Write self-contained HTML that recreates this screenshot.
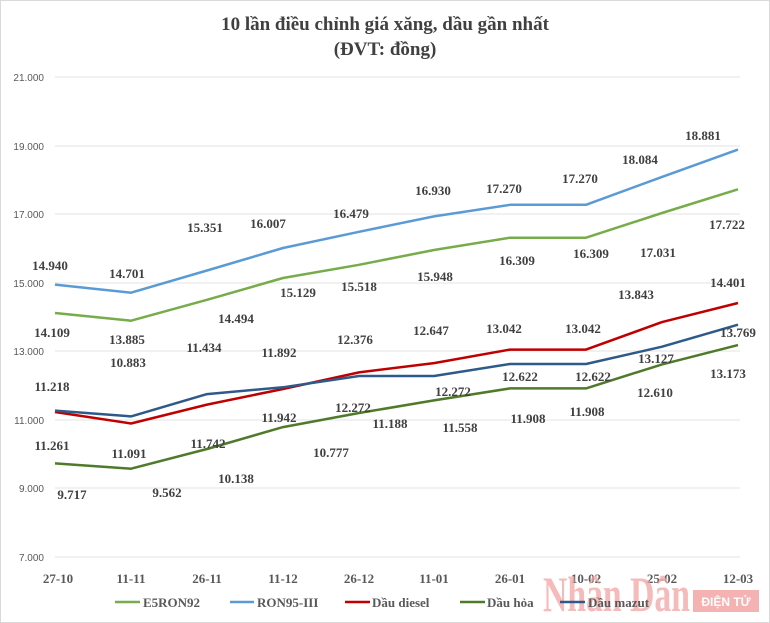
<!DOCTYPE html><html><head><meta charset="utf-8"><style>body{margin:0;background:#fff}svg{display:block}</style></head><body>
<svg width="770" height="623" xmlns="http://www.w3.org/2000/svg" font-family="Liberation Serif, serif">
<rect x="0.5" y="0.5" width="769" height="622" fill="#fff" stroke="#d9d9d9"/>
<text x="385" y="30" text-anchor="middle" font-size="19" font-weight="bold" fill="#404040">10 lần điều chỉnh giá xăng, dầu gần nhất</text>
<text x="385" y="55" text-anchor="middle" font-size="19" font-weight="bold" fill="#404040">(ĐVT: đồng)</text>
<g stroke="#e3e3e3" stroke-width="1">
<line x1="55" x2="740" y1="77" y2="77"/><line x1="55" x2="740" y1="146" y2="146"/><line x1="55" x2="740" y1="214" y2="214"/><line x1="55" x2="740" y1="283" y2="283"/><line x1="55" x2="740" y1="351" y2="351"/><line x1="55" x2="740" y1="420" y2="420"/><line x1="55" x2="740" y1="488" y2="488"/><line x1="55" x2="740" y1="557" y2="557"/></g>
<g font-family="Liberation Sans, sans-serif" font-size="10" fill="#595959" text-anchor="end">
<text x="44" y="81">21.000</text><text x="44" y="150">19.000</text><text x="44" y="218">17.000</text><text x="44" y="287">15.000</text><text x="44" y="355">13.000</text><text x="44" y="424">11.000</text><text x="44" y="492">9.000</text><text x="44" y="561">7.000</text></g>
<g fill="none" stroke-width="2.5" stroke-linejoin="round">
<polyline stroke="#77ac4a" points="55,313 131,320.7 207,299.8 283,278 359,264.8 434,250 510,237.7 586,237.7 662,213 738,189.3"/>
<polyline stroke="#5b9bd5" points="55,284.6 131,292.7 207,270.5 283,248 359,231.8 434,216.4 510,204.8 586,204.8 662,176.9 738,149.6"/>
<polyline stroke="#c00000" points="55,412 131,423.5 207,404.6 283,389 359,372.4 434,363.1 510,349.6 586,349.6 662,322.1 738,303"/>
<polyline stroke="#2e5a8a" points="55,410.6 131,416.4 207,394.1 283,387.3 359,376 434,376 510,364 586,364 662,346.7 738,324.7"/>
<polyline stroke="#4e7a2a" points="55,463.4 131,468.7 207,449 283,427.1 359,413 434,400.4 510,388.4 586,388.4 662,364.4 738,345.1"/>
</g>
<g font-size="13" font-weight="bold" fill="#404040" text-anchor="middle">
<text x="50" y="270">14.940</text><text x="127" y="278">14.701</text><text x="205" y="232">15.351</text><text x="268" y="228">16.007</text><text x="351" y="218">16.479</text><text x="433" y="195">16.930</text><text x="504" y="193">17.270</text><text x="580" y="183">17.270</text><text x="640" y="164">18.084</text><text x="703" y="140">18.881</text>
<text x="52" y="337">14.109</text><text x="127" y="344">13.885</text><text x="236" y="323">14.494</text><text x="298" y="297">15.129</text><text x="359" y="291">15.518</text><text x="435" y="281">15.948</text><text x="517" y="265">16.309</text><text x="591" y="258">16.309</text><text x="658" y="257">17.031</text><text x="727" y="229">17.722</text>
<text x="52" y="391">11.218</text><text x="128" y="367">10.883</text><text x="204" y="352">11.434</text><text x="279" y="357">11.892</text><text x="355" y="344">12.376</text><text x="431" y="335">12.647</text><text x="504" y="333">13.042</text><text x="583" y="333">13.042</text><text x="636" y="299">13.843</text><text x="728" y="287">14.401</text>
<text x="52" y="450">11.261</text><text x="129" y="458">11.091</text><text x="208" y="448">11.742</text><text x="279" y="422">11.942</text><text x="353" y="412">12.272</text><text x="453" y="396">12.272</text><text x="520" y="381">12.622</text><text x="593" y="381">12.622</text><text x="656" y="363">13.127</text><text x="738" y="337">13.769</text>
<text x="72" y="499">9.717</text><text x="167" y="497">9.562</text><text x="236" y="483">10.138</text><text x="331" y="457">10.777</text><text x="390" y="428">11.188</text><text x="460" y="432">11.558</text><text x="528" y="423">11.908</text><text x="587" y="416">11.908</text><text x="655" y="397">12.610</text><text x="728" y="378">13.173</text>
</g>
<g font-size="13" font-weight="bold" fill="#595959" text-anchor="middle">
<text x="58" y="583">27-10</text><text x="131" y="583">11-11</text><text x="207" y="583">26-11</text><text x="283" y="583">11-12</text><text x="359" y="583">26-12</text><text x="434" y="583">11-01</text><text x="510" y="583">26-01</text><text x="586" y="583">10-02</text><text x="662" y="583">25-02</text><text x="738" y="583">12-03</text></g>
<text x="543" y="611" font-size="50" font-weight="bold" fill="#f2a5a5" opacity="0.75" textLength="147" lengthAdjust="spacingAndGlyphs">Nhân Dân</text>
<rect x="693" y="590" width="66" height="22" fill="#f2a5a5" opacity="0.85"/><text x="726" y="606" text-anchor="middle" font-family="Liberation Sans, sans-serif" font-size="12" font-weight="bold" fill="#fff">ĐIỆN TỬ</text>
<g font-size="13" font-weight="bold" fill="#595959">
<line x1="115" x2="140" y1="602" y2="602" stroke="#77ac4a" stroke-width="2.5"/><text x="143" y="607">E5RON92</text>
<line x1="230" x2="254" y1="602" y2="602" stroke="#5b9bd5" stroke-width="2.5"/><text x="257" y="607">RON95-III</text>
<line x1="345" x2="370" y1="602" y2="602" stroke="#c00000" stroke-width="2.5"/><text x="372" y="607">Dầu diesel</text>
<line x1="460" x2="485" y1="602" y2="602" stroke="#4e7a2a" stroke-width="2.5"/><text x="487" y="607">Dầu hỏa</text>
<line x1="560" x2="585" y1="602" y2="602" stroke="#2e5a8a" stroke-width="2.5"/><text x="588" y="607">Dầu mazut</text>
</g>
</svg></body></html>
